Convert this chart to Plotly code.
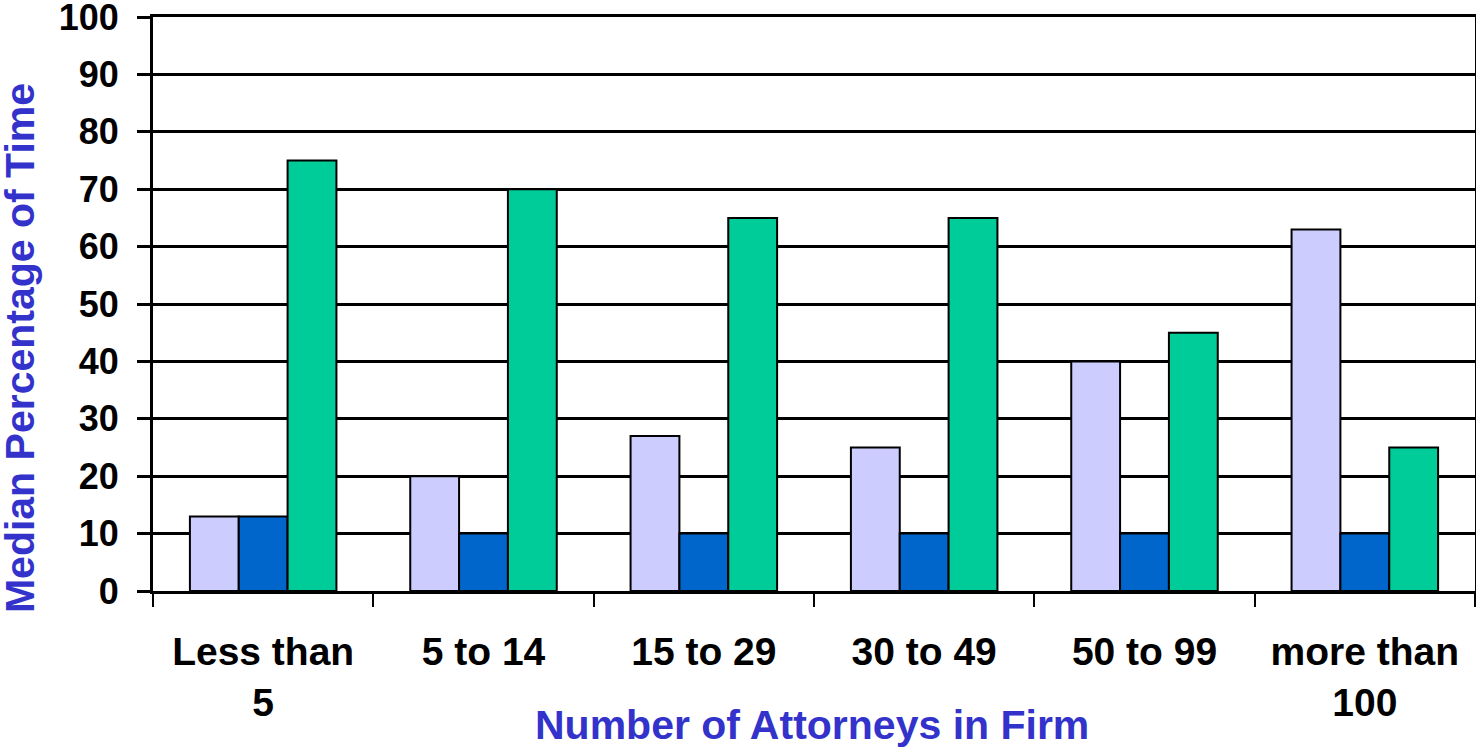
import plotly.graph_objects as go

categories = ["Less than<br>5", "5 to 14", "15 to 29", "30 to 49", "50 to 99", "more than<br>100"]
series_a = [13, 20, 27, 25, 40, 63]
series_b = [13, 10, 10, 10, 10, 10]
series_c = [75, 70, 65, 65, 45, 25]
y_ticks = [0, 10, 20, 30, 40, 50, 60, 70, 80, 90, 100]

colors = ["#CCCCFF", "#0066CC", "#00CC99"]
FONT = "Arial, Liberation Sans, sans-serif"
TITLE_COLOR = "#3333CC"

fig = go.Figure()
for vals, col in zip([series_a, series_b, series_c], colors):
    fig.add_trace(go.Bar(x=categories, y=vals, marker=dict(color=col, line=dict(color="black", width=2)),
                         showlegend=False))

fig.update_layout(
    width=1476, height=749,
    margin=dict(l=153, r=1, t=17, b=158),
    plot_bgcolor="white", paper_bgcolor="white",
    barmode="group", bargap=0.335, bargroupgap=0,
    font=dict(family=FONT, color="black"),
)
fig.update_xaxes(
    automargin=False,
    tickson="boundaries", ticks="outside", ticklen=13, tickwidth=2, tickcolor="black",
    showline=True, linecolor="black", linewidth=3, mirror=True,
    tickfont=dict(family=FONT, size=39, color="black", weight="bold"),
    ticklabelstandoff=24, ticklabeloverflow="allow",
)
fig.update_yaxes(
    automargin=False,
    range=[0, 100], tickvals=y_ticks, ticks="outside", ticklen=13, tickwidth=3, tickcolor="black",
    showgrid=True, gridcolor="black", gridwidth=3,
    showline=True, linecolor="black", linewidth=3, mirror=True,
    tickfont=dict(family=FONT, size=36, color="black", weight="bold"),
    ticklabelstandoff=11, ticklabeloverflow="allow",
    zeroline=False,
)
fig.add_annotation(text="<b>Number of Attorneys in Firm</b>", xref="paper", yref="paper",
                   x=0.4985, y=-0.2334, xanchor="center", yanchor="middle", showarrow=False,
                   font=dict(family=FONT, size=41, color=TITLE_COLOR))
fig.add_annotation(text="<b>Median Percentage of Time</b>", xref="paper", yref="paper",
                   x=-0.1007, y=0.423, xanchor="center", yanchor="middle", showarrow=False,
                   textangle=-90, font=dict(family=FONT, size=41, color=TITLE_COLOR))

fig.write_html("out.html", config={"displayModeBar": False},
               post_script="document.body.style.margin='0';")
